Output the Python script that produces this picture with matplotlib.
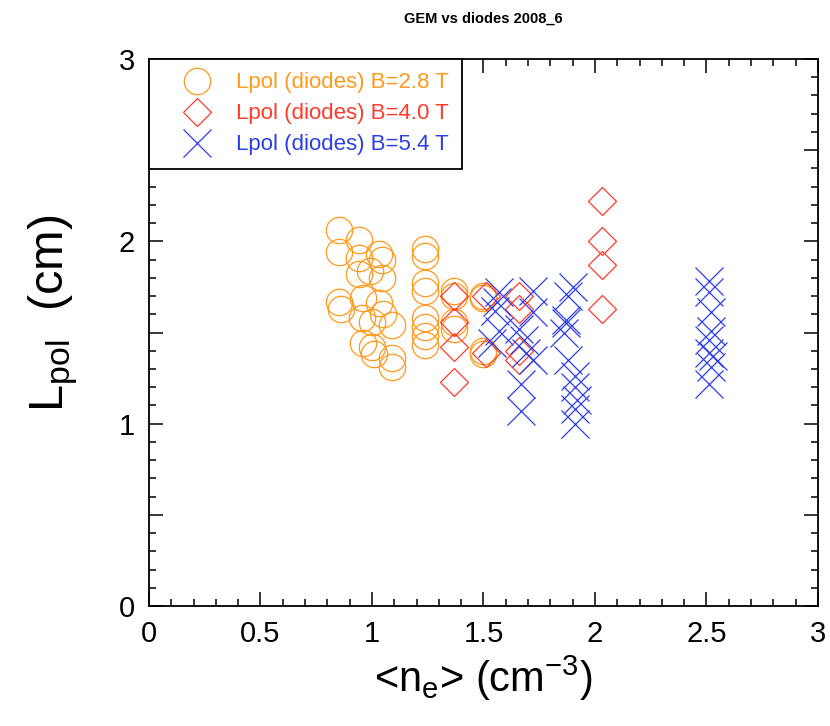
import matplotlib
matplotlib.use("Agg")
import matplotlib.pyplot as plt
from matplotlib.ticker import MultipleLocator, FuncFormatter

plt.rcParams['font.family'] = ['Liberation Sans', 'DejaVu Sans']
plt.rcParams['mathtext.default'] = 'regular'

# B = 2.8 T (orange circles)
x28 = [0.85, 0.94, 0.85, 0.94, 1.03, 1.045, 0.94, 1.045, 0.99, 0.85, 0.86,
       0.96, 1.03, 0.955, 1.0, 1.05, 1.09, 0.96, 1.01, 1.09, 1.09, 1.0,
       1.24, 1.24, 1.24, 1.24, 1.24, 1.24, 1.24, 1.24,
       1.37, 1.37, 1.37, 1.37,
       1.50, 1.50, 1.50, 1.50]
y28 = [2.06, 2.01, 1.94, 1.91, 1.93, 1.90, 1.82, 1.80, 1.84, 1.67, 1.63,
       1.69, 1.66, 1.58, 1.56, 1.60, 1.54, 1.44, 1.38, 1.36, 1.31, 1.42,
       1.96, 1.92, 1.77, 1.73, 1.58, 1.53, 1.48, 1.43,
       1.73, 1.70, 1.56, 1.52,
       1.70, 1.69, 1.40, 1.38]

# B = 4.0 T (red diamonds)
x40 = [1.37, 1.37, 1.37, 1.37, 1.51, 1.51, 1.66, 1.66, 1.66, 1.66,
       2.03, 2.03, 2.03, 2.03]
y40 = [1.70, 1.56, 1.42, 1.23, 1.70, 1.39, 1.70, 1.63, 1.40, 1.35,
       2.22, 2.00, 1.87, 1.63]

# B = 5.4 T (blue crosses)
x54 = [1.57, 1.56, 1.57, 1.54, 1.55,
       1.72, 1.72, 1.68, 1.69, 1.72, 1.67, 1.67, 1.66,
       1.90, 1.88, 1.87, 1.86, 1.88, 1.91, 1.91, 1.91, 1.91, 1.87, 1.92,
       2.51, 2.51, 2.52, 2.52, 2.51, 2.51, 2.53, 2.52, 2.51]
y54 = [1.72, 1.67, 1.51, 1.44, 1.62,
       1.73, 1.61, 1.46, 1.39, 1.35, 1.22, 1.07, 1.52,
       1.75, 1.70, 1.57, 1.50, 1.35, 1.26, 1.20, 1.08, 1.00, 1.55, 1.13,
       1.78, 1.72, 1.61, 1.51, 1.46, 1.39, 1.37, 1.31, 1.22]

labels = ['Lpol (diodes) B=2.8 T', 'Lpol (diodes) B=4.0 T', 'Lpol (diodes) B=5.4 T']
colors = ['#ff9a1c', '#ff3b2b', '#2b3fe6']

fig = plt.figure(figsize=(8.3, 7.26), dpi=100)
ax = fig.add_axes([0.1795, 0.1653, 0.806, 0.7534])

ax.plot(x28, y28, linestyle='none', marker='o', markersize=19, markerfacecolor='none',
        markeredgecolor=colors[0], markeredgewidth=0.9, label=labels[0])
ax.plot(x40, y40, linestyle='none', marker='D', markersize=14, markerfacecolor='none',
        markeredgecolor=colors[1], markeredgewidth=0.9, label=labels[1])
ax.plot(x54, y54, linestyle='none', marker='x', markersize=20,
        markeredgecolor=colors[2], markeredgewidth=0.9, label=labels[2])

ax.set_xlim(0, 3)
ax.set_ylim(0, 3)
ax.xaxis.set_major_locator(MultipleLocator(0.5))
ax.xaxis.set_minor_locator(MultipleLocator(0.1))
ax.yaxis.set_major_locator(MultipleLocator(0.5))
ax.yaxis.set_minor_locator(MultipleLocator(0.1))
ax.xaxis.set_major_formatter(FuncFormatter(lambda v, p: '%g' % v))
ax.yaxis.set_major_formatter(FuncFormatter(lambda v, p: '%d' % round(v) if abs(v - round(v)) < 1e-6 else ''))

ax.tick_params(which='both', direction='in', top=True, right=True, labelsize=21, width=1.1)
ax.tick_params(which='major', length=10, pad=10)
ax.tick_params(which='minor', length=5)
for s in ax.spines.values():
    s.set_linewidth(1.3)

ax.set_xlabel(r'<n$_e$> (cm$^{-3}$)', fontsize=30, labelpad=4)
ax.set_ylabel(r'L$_{pol}$  (cm)', fontsize=35, labelpad=28)
ax.yaxis.label.set_y(0.535)
ax.set_title('GEM vs diodes 2008_6', fontsize=10.5, fontweight='bold', pad=26)

leg = ax.legend(loc='upper left', bbox_to_anchor=(0, 1), borderaxespad=0,
                fancybox=False, framealpha=1, edgecolor='black', fontsize=16,
                handletextpad=0.2, labelspacing=0.45, borderpad=0.6, markerscale=1.0,
                handlelength=3.1)
leg.get_frame().set_linewidth(1.3)
for t, c in zip(leg.get_texts(), colors):
    t.set_color(c)

fig.savefig('out.png', dpi=100)
